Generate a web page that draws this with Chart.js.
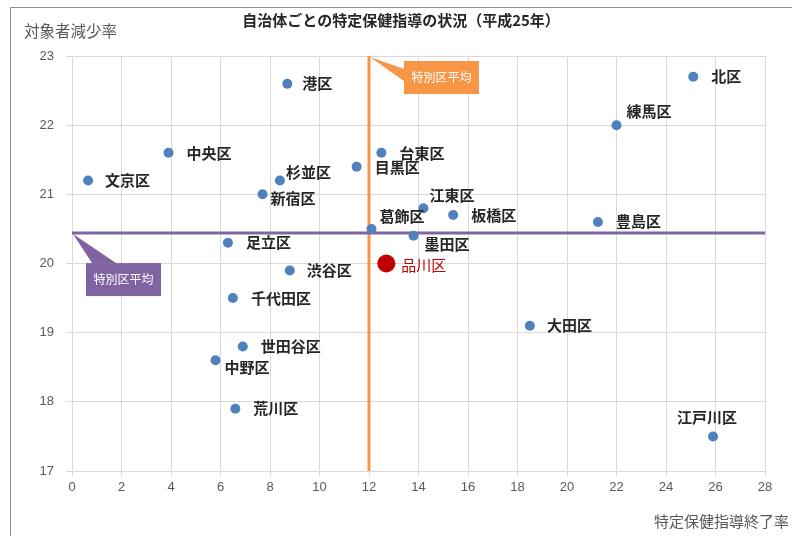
<!DOCTYPE html>
<html><head><meta charset="utf-8">
<script src="https://cdn.jsdelivr.net/npm/chart.js@4/dist/chart.umd.min.js"></script>
<style>
html,body{margin:0;padding:0;background:#fff;}
#wrap{width:792px;height:536px;position:relative;}
</style></head>
<body><div id="wrap"><canvas id="c" width="792" height="536"></canvas></div>
<script>
const wards = ['港区','北区','練馬区','中央区','文京区','台東区','目黒区','杉並区','新宿区','江東区','板橋区','豊島区','葛飾区','墨田区','足立区','品川区','渋谷区','千代田区','大田区','世田谷区','中野区','荒川区','江戸川区'];
const completionRate = [8.7,25.1,22.0,3.9,0.65,12.5,11.5,8.4,7.7,14.2,15.4,21.25,12.1,13.8,6.3,12.7,8.8,6.5,18.5,6.9,5.8,6.6,25.9];
const reductionRate  = [22.6,22.7,22.0,21.6,21.2,21.6,21.4,21.2,21.0,20.8,20.7,20.6,20.5,20.4,20.3,20.0,19.9,19.5,19.1,18.8,18.6,17.9,17.5];
const avgCompletion = 12.0;
const avgReduction = 20.44;
const xTicks = [0,2,4,6,8,10,12,14,16,18,20,22,24,26,28];
const yTicks = [17,18,19,20,21,22,23];
const highlight = '品川区';
const avgLabel = '特別区平均';

// label placement (style, not data): [dx, dy, align]
const labelPlace = {
 '港区':[15,0,'left'],'北区':[18,0,'left'],'練馬区':[10,-14,'left'],'中央区':[18,0,'left'],'文京区':[17,0,'left'],
 '台東区':[18,0,'left'],'目黒区':[18,1,'left'],'杉並区':[6,-8,'left'],'新宿区':[8,4,'left'],'江東区':[6,-13,'left'],
 '板橋区':[18,0,'left'],'豊島区':[18,-1,'left'],'葛飾区':[8,-13,'left'],'墨田区':[11,8,'left'],'足立区':[18,0,'left'],
 '品川区':[15,2,'left'],'渋谷区':[17,0,'left'],'千代田区':[18,0,'left'],'大田区':[17,0,'left'],'世田谷区':[18,0,'left'],
 '中野区':[9,7,'left'],'荒川区':[18,0,'left'],'江戸川区':[-6,-19,'center']
};

const FONT = '"Noto Sans CJK JP","Noto Sans",sans-serif';
const TICKFONT = '"Liberation Sans",Arial,sans-serif';
const pts = wards.map((w,i)=>({x:completionRate[i], y:reductionRate[i], name:w}));

const deco = {
  id:'deco',
  beforeDraw(chart){
    const ctx = chart.ctx;
    ctx.save();
    ctx.fillStyle='#fff'; ctx.fillRect(0,0,chart.width,chart.height);
    ctx.strokeStyle='#8c8c8c'; ctx.lineWidth=1;
    ctx.beginPath(); ctx.moveTo(10.5,chart.height+1); ctx.lineTo(10.5,7.5); ctx.lineTo(chart.width+1,7.5); ctx.stroke();
    ctx.fillStyle='#262626'; ctx.font='bold 15px '+FONT; ctx.textAlign='center'; ctx.textBaseline='middle';
    ctx.fillText('自治体ごとの特定保健指導の状況（平成25年）', 401, 20);
    ctx.fillStyle='#595959'; ctx.font='15.5px '+FONT; ctx.textAlign='left';
    ctx.fillText('対象者減少率', 24, 31);
    ctx.textAlign='right';
    ctx.font='15px '+FONT;
    ctx.fillText('特定保健指導終了率', 789, 521);
    ctx.restore();
  },
  afterDatasetsDraw(chart){
    const ctx = chart.ctx, xs = chart.scales.x, ys = chart.scales.y;
    ctx.save();
    // point labels
    pts.forEach(p=>{
      const px = xs.getPixelForValue(p.x), py = ys.getPixelForValue(p.y);
      const pl = labelPlace[p.name] || [15,0,'left'];
      const hi = p.name===highlight;
      ctx.font = (hi ? '15px ' : 'bold 15px ')+FONT;
      ctx.fillStyle = hi ? '#C00000' : '#262626';
      ctx.textAlign = pl[2]; ctx.textBaseline='middle';
      ctx.fillText(p.name, px+pl[0], py+pl[1]);
    });
    // orange callout
    const lx = xs.getPixelForValue(avgCompletion), top = ys.getPixelForValue(23);
    const bx = lx+35, by = top+5, bw=75, bh=33;
    ctx.fillStyle='#F79646';
    ctx.beginPath(); ctx.moveTo(lx+1, top+1); ctx.lineTo(bx, by+8); ctx.lineTo(bx, by+20); ctx.closePath(); ctx.fill();
    ctx.fillRect(bx, by, bw, bh);
    ctx.fillStyle='#fff'; ctx.font='12px '+FONT; ctx.textAlign='center'; ctx.textBaseline='middle';
    ctx.fillText(avgLabel, bx+bw/2, by+bh/2);
    // purple callout
    const ly = ys.getPixelForValue(avgReduction), left = xs.getPixelForValue(0);
    const px0 = left+14, py0 = ly+30;
    ctx.fillStyle='#8064A2';
    ctx.beginPath(); ctx.moveTo(left+1, ly+1); ctx.lineTo(px0+6, py0); ctx.lineTo(px0+30, py0); ctx.closePath(); ctx.fill();
    ctx.fillRect(px0, py0, bw, bh);
    ctx.fillStyle='#fff';
    ctx.fillText(avgLabel, px0+bw/2, py0+bh/2);
    ctx.restore();
  }
};

new Chart(document.getElementById('c'), {
  type:'scatter',
  data:{
    datasets:[
      {label:'区', data:pts, order:0,
       pointRadius:pts.map(p=>p.name===highlight?9:5),
       pointHoverRadius:pts.map(p=>p.name===highlight?9:5),
       backgroundColor:pts.map(p=>p.name===highlight?'#C00000':'#4F81BD'),
       borderColor:pts.map(p=>p.name===highlight?'#C00000':'#4F81BD'), borderWidth:0},
      {label:'平均X', type:'line', data:[{x:avgCompletion,y:17},{x:avgCompletion,y:23}], order:2,
       borderColor:'#F79646', borderWidth:3, pointRadius:0, showLine:true},
      {label:'平均Y', type:'line', data:[{x:0,y:avgReduction},{x:28,y:avgReduction}], order:1,
       borderColor:'#8064A2', borderWidth:3, pointRadius:0, showLine:true}
    ]
  },
  options:{
    responsive:false, animation:false, devicePixelRatio:1,
    layout:{padding:{left:0,right:27,top:56,bottom:0}},
    plugins:{legend:{display:false}, tooltip:{enabled:false}},
    scales:{
      x:{type:'linear', min:0, max:28,
         afterBuildTicks(s){ s.ticks = xTicks.map(v=>({value:v})); },
         afterFit(s){ s.height = 65; },
         grid:{color:'#d9d9d9', tickLength:5, tickColor:'#d9d9d9'},
         border:{color:'#d9d9d9'},
         ticks:{color:'#595959', font:{size:13, family:TICKFONT}, padding:4, maxRotation:0}},
      y:{type:'linear', min:17, max:23,
         afterBuildTicks(s){ s.ticks = yTicks.map(v=>({value:v})); },
         afterFit(s){ s.width = 72; },
         grid:{color:'#d9d9d9', tickLength:6, tickColor:'#d9d9d9'},
         border:{color:'#d9d9d9'},
         ticks:{color:'#595959', font:{size:13, family:TICKFONT}, padding:12}}
    }
  },
  plugins:[deco]
});
</script></body></html>
